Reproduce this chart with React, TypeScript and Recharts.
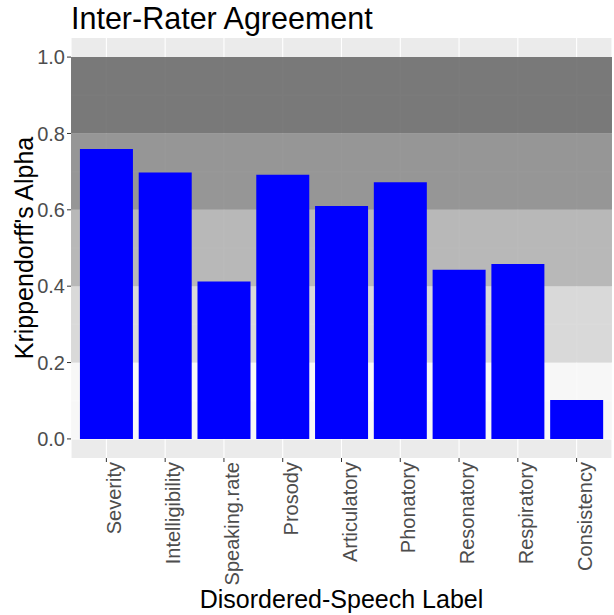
import React from "react";
import {
  BarChart,
  Bar,
  XAxis,
  YAxis,
  CartesianGrid,
  ReferenceArea,
  Label,
} from "recharts";

const categories = [
  "Severity",
  "Intelligibility",
  "Speaking.rate",
  "Prosody",
  "Articulatory",
  "Phonatory",
  "Resonatory",
  "Respiratory",
  "Consistency",
];
const alphaValues = [0.759, 0.698, 0.412, 0.692, 0.61, 0.672, 0.443, 0.458, 0.102];
const yTicks = [0, 0.2, 0.4, 0.6, 0.8, 1.0];
const minorTicks = [0.1, 0.3, 0.5, 0.7, 0.9];
const bandLower = [0, 0.2, 0.4, 0.6, 0.8];
const bandUpper = [0.2, 0.4, 0.6, 0.8, 1.0];
const bandColors = ["#F8F8F8", "#D7D7D7", "#B2B2B2", "#8D8D8D", "#6D6D6D"];

const data = categories.map((c, i) => ({ label: c, alpha: alphaValues[i], band: 0 }));

const FONT = "Arial, 'Liberation Sans', Helvetica, sans-serif";

const XTick = (props: any) => {
  const { x, y, payload } = props;
  return (
    <text
      transform={`translate(${x},${y}) rotate(-90)`}
      x={0}
      y={0}
      dy={15}
      textAnchor="end"
      fontSize={20}
      fontFamily={FONT}
      fill="#4D4D4D"
    >
      {payload.value}
    </text>
  );
};

export default function App() {
  return (
    <div style={{ position: "absolute", left: 0, top: 0, width: 614, height: 615, background: "#fff" }}>
      <svg
        width={614}
        height={40}
        style={{ position: "absolute", left: 0, top: 0 }}
      >
        <text x={71} y={29} fontSize={30.5} fontFamily={FONT} fill="#000">
          Inter-Rater Agreement
        </text>
      </svg>
      <div style={{ position: "absolute", left: 0, top: 0 }}>
        <BarChart
          width={614}
          height={615}
          data={data}
          margin={{ top: 38, right: 2, bottom: 0, left: 0 }}
          barCategoryGap="5%"
        >
          <CartesianGrid
            fill="#EBEBEB"
            fillOpacity={1}
            stroke="#FFFFFF"
            strokeWidth={1.1}
            horizontalValues={[...yTicks, ...minorTicks]}
          />
          {bandLower.map((lo, i) => (
            <ReferenceArea
              key={"b" + i}
              xAxisId="band"
              x1={0}
              x2={1}
              y1={lo}
              y2={bandUpper[i]}
              fill={bandColors[i]}
              fillOpacity={0.9}
              stroke="none"
              ifOverflow="visible"
            />
          ))}
          <XAxis
            xAxisId="band"
            dataKey="band"
            type="number"
            domain={[0, 1]}
            allowDataOverflow
            hide
          />
          <XAxis
            dataKey="label"
            type="category"
            height={157}
            padding={{ left: 6, right: 6 }}
            axisLine={false}
            tickLine={{ stroke: "#333333", strokeWidth: 1 }}
            tickSize={4}
            tickMargin={0}
            interval={0}
            tick={<XTick />}
          >
            <Label
              content={() => (
                <text
                  x={341.5}
                  y={608}
                  textAnchor="middle"
                  fontSize={25}
                  fontFamily={FONT}
                  fill="#000"
                >
                  Disordered-Speech Label
                </text>
              )}
            />
          </XAxis>
          <YAxis
            type="number"
            domain={[-0.05, 1.05]}
            ticks={yTicks}
            allowDataOverflow
            width={71}
            axisLine={false}
            tickLine={{ stroke: "#333333", strokeWidth: 1 }}
            tickSize={4}
            tickMargin={2}
            tickFormatter={(v: number) => v.toFixed(1)}
            tick={{ fontSize: 20, fontFamily: FONT, fill: "#4D4D4D" }}
          >
            <Label
              content={() => (
                <text
                  transform={`translate(33,248) rotate(-90)`}
                  x={0}
                  y={0}
                  textAnchor="middle"
                  fontSize={25}
                  fontFamily={FONT}
                  fill="#000"
                >
                  Krippendorff's Alpha
                </text>
              )}
            />
          </YAxis>
          <Bar dataKey="alpha" fill="#0000FF" isAnimationActive={false} />
        </BarChart>
      </div>
    </div>
  );
}
